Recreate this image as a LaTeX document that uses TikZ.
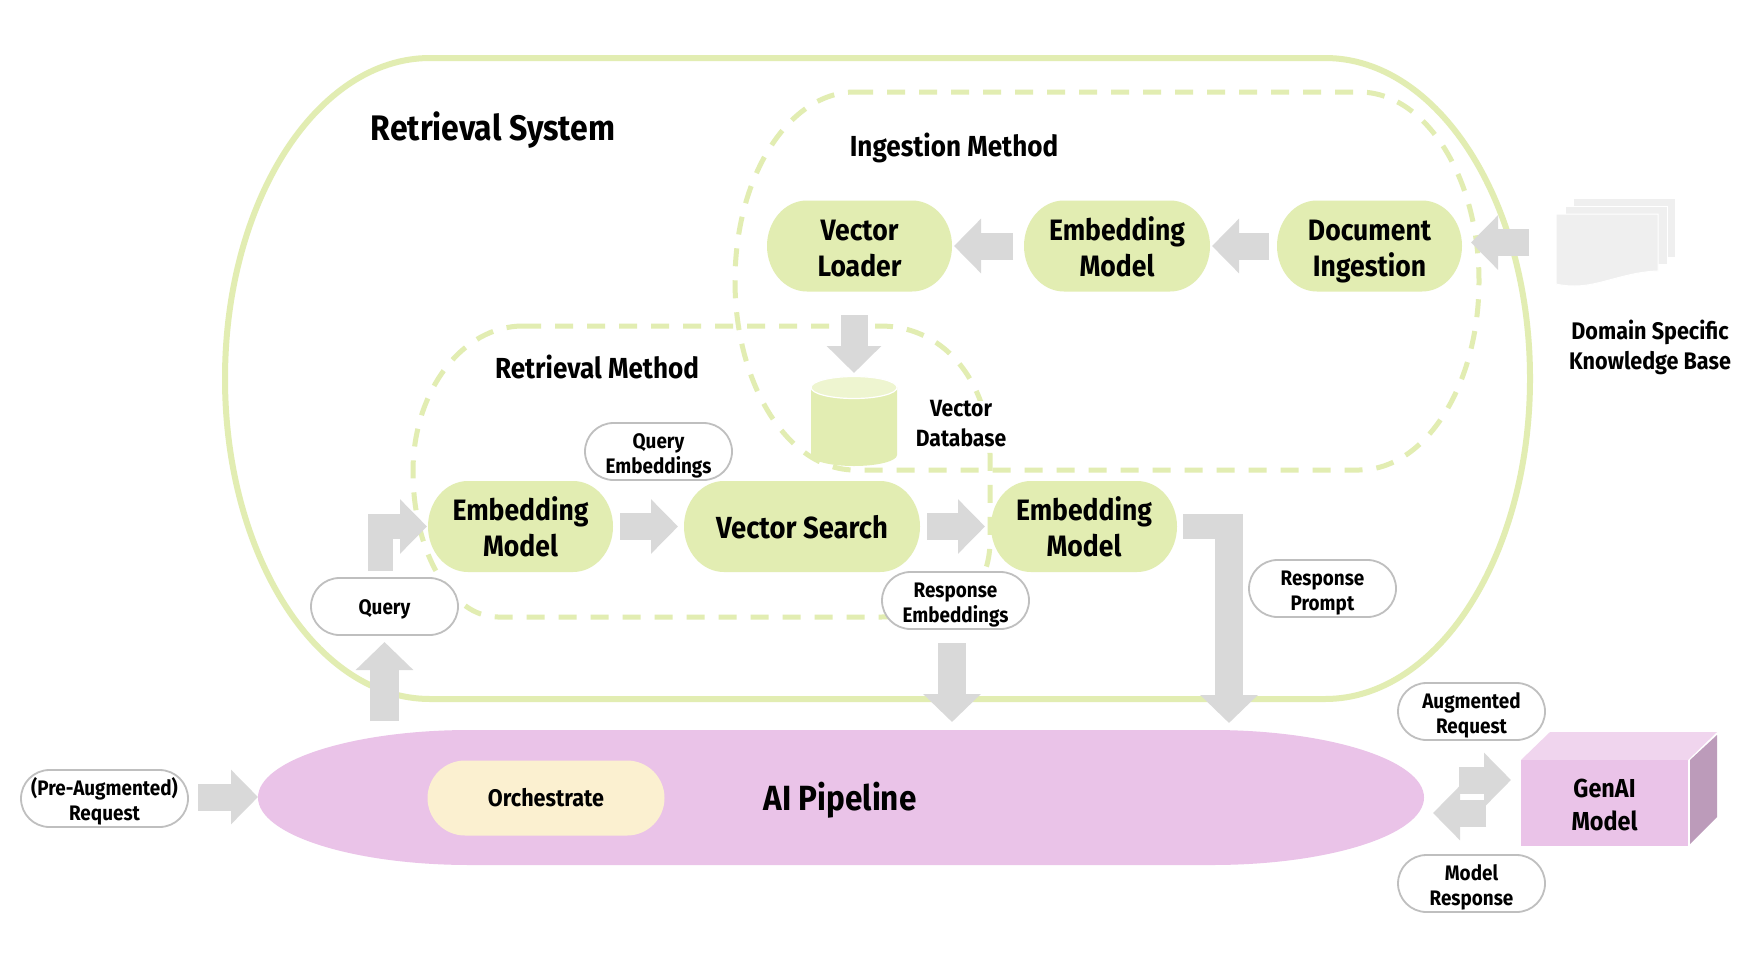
\documentclass[tikz,border=0pt]{standalone}
\usepackage{fontspec}
\setmainfont{Fira Sans}[FakeStretch=0.9]
\usetikzlibrary{arrows.meta,shapes.misc}
\definecolor{lime}{HTML}{E2EDB2}
\definecolor{limelt}{HTML}{EEF5D0}
\definecolor{orchid}{HTML}{EAC3E8}
\definecolor{orchidlt}{HTML}{F0D5EE}
\definecolor{orchiddk}{HTML}{BC9BBA}
\definecolor{cream}{HTML}{FBF0D0}
\definecolor{blockgray}{HTML}{D9D9D9}
\definecolor{pagegray}{HTML}{EFEFEF}
\definecolor{pillgray}{HTML}{BFBFBF}
\tikzset{
  x=1pt,y=-1pt,
  every node/.style={font=\bfseries,inner sep=0pt,outer sep=0pt,align=center},
  bigpill/.style={minimum height=91pt,text height=60pt,text depth=0pt,font=\fontsize{29.5}{36}\bfseries},
  tagpill/.style={fill=white,draw=pillgray,line width=1.8pt,rounded rectangle,minimum width=147pt,minimum height=57pt,text height=43pt,text depth=0pt,font=\fontsize{21}{25}\bfseries},
  boundary/.style={draw=lime,line width=6pt},
  dashbound/.style={draw=lime,line width=5pt,dash pattern=on 18pt off 14pt},
  block/.style={draw=blockgray,line width=27pt,line join=miter,-{Triangle[length=27pt,width=53pt,color=blockgray]}},
  bigblock/.style={draw=blockgray,line width=28.5pt,line join=miter,-{Triangle[length=28pt,width=56pt,color=blockgray]}},
  blockleg/.style={draw=blockgray,line width=25pt},
  pagesheet/.style={fill=pagegray,draw=white,line width=1pt},
  heading/.style={font=\fontsize{#1}{#1}\bfseries},
  caption/.style={font=\fontsize{23.5}{30}\bfseries},
}
% elliptical-ended pill body: colour, centre x, centre y, width, height, end radius
\newcommand\pillbody[6]{%
  \fill[#1] ({#2-#4/2+#6},{#3-#5/2}) -- ({#2+#4/2-#6},{#3-#5/2})
    arc[start angle=-90,end angle=90,x radius=#6,y radius=#5/2]
    -- ({#2-#4/2+#6},{#3+#5/2})
    arc[start angle=90,end angle=270,x radius=#6,y radius=#5/2] -- cycle;}
\begin{document}
\begin{tikzpicture}
\useasboundingbox (0,0) rectangle (1742,964);
\fill[white] (0,0) rectangle (1742,964);
% containers
\draw[boundary] (430,58) -- (1325,58) arc[start angle=-90,end angle=90,x radius=205,y radius=320.5] -- (430,699) arc[start angle=90,end angle=270,x radius=205,y radius=320.5] -- cycle;
\draw[dashbound] (855,92) -- (1359,92) arc[start angle=-90,end angle=90,x radius=120,y radius=189] -- (855,470) arc[start angle=90,end angle=270,x radius=120,y radius=189] -- cycle;
\draw[dashbound] (523,326) -- (880,326) .. controls (950,326) and (990,390) .. (990,455) -- (990,540) .. controls (990,590) and (960,617) .. (880,617) -- (498,617) arc[start angle=90,end angle=180,x radius=85,y radius=145.5] arc[start angle=180,end angle=270,x radius=110,y radius=145.5] -- cycle;
% headings
\node[heading=35.5] (rs) at (493,130) {Retrieval System};
\node[heading=29] (im) at (954,148) {Ingestion Method};
\node[heading=29] (rm) at (597,367) {Retrieval Method};
% database
\fill[lime] (811,387) -- (811,455) arc[start angle=180,end angle=0,x radius=43,y radius=11] -- (897,387) -- cycle;
\draw[fill=limelt,draw=white,line width=1.2pt] (854,387.5) ellipse[x radius=43,y radius=11];
\coordinate (dbtop) at (854,373);
\node[caption,fill=white,inner xsep=3pt] (vdb) at (961,424) {Vector\\Database};
% main nodes
\pillbody{lime}{859.5}{246}{185}{91}{40}
\pillbody{lime}{1117}{246}{186}{91}{40}
\pillbody{lime}{1369.5}{246}{185}{91}{40}
\pillbody{lime}{520.5}{526.5}{185}{91}{40}
\pillbody{lime}{802}{526.5}{236}{91}{40}
\pillbody{lime}{1084}{526.5}{186}{91}{40}
\node[bigpill,minimum width=185pt] (vl) at (859.5,246) {Vector\\Loader};
\node[bigpill,minimum width=186pt] (em1) at (1117,246) {Embedding\\Model};
\node[bigpill,minimum width=185pt] (di) at (1369.5,246) {Document\\Ingestion};
\node[bigpill,minimum width=185pt] (em2) at (520.5,526.5) {Embedding\\Model};
\node[bigpill,minimum width=236pt,text height=24pt,font=\fontsize{30.5}{36}\bfseries] (vs) at (802,526.5) {Vector Search};
\node[bigpill,minimum width=186pt] (em3) at (1084,526.5) {Embedding\\Model};
% pipeline
\pillbody{orchid}{841}{797.5}{1166}{135}{212}
\node[heading=35] (ai) at (840,800) {AI Pipeline};
\node[fill=cream,rounded rectangle,minimum width=237pt,minimum height=75pt,font=\fontsize{24}{28}\bfseries] (orc) at (546,798) {Orchestrate};
% genai box
\fill[orchidlt] (1521,760) -- (1550,732) -- (1717,732) -- (1688,760) -- cycle;
\fill[orchiddk] (1690,760) -- (1717,735) -- (1717,817) -- (1690,844) -- cycle;
\node[fill=orchid,minimum width=167pt,minimum height=86pt,text height=54pt,text depth=0pt,font=\fontsize{26}{33}\bfseries] (gen) at (1604.5,803) {GenAI\\Model};
% documents
\path[pagesheet] (1573,198) rectangle (1675,257);
\path[pagesheet] (1565,206) rectangle (1667,264);
\path[pagesheet] (1556,214) -- (1658,214) -- (1658,271) .. controls (1625,272) and (1600,286) .. (1575,286) .. controls (1566,286) and (1560,285) .. (1556,284) -- cycle;
\coordinate (docs) at (1529,242.5);
\node[font=\fontsize{24}{30}\bfseries] (kb) at (1650,347) {Domain Specific\\Knowledge Base};
% tags
\node[tagpill,minimum width=167pt] (pre) at (104.5,798.5) {(Pre-Augmented)\\Request};
\node[tagpill] (qe) at (658.5,451.5) {Query\\Embeddings};
\node[tagpill,text height=16pt] (q) at (384.5,606.5) {Query};
\node[tagpill] (re) at (955.5,600.5) {Response\\Embeddings};
\node[tagpill] (rp) at (1322.5,588.5) {Response\\Prompt};
\node[tagpill] (ar) at (1471.5,711.5) {Augmented\\Request};
\node[tagpill] (mr) at (1471.5,883.5) {Model\\Response};
% block arrows
\coordinate (qup) at (380,571);
\coordinate (bendtop) at (1229,514);
\coordinate (bendin) at (1243,526.5);
\coordinate (bend) at (1229,723);
\coordinate (repipe) at (952,722);
\coordinate (prepipe) at (258,797);
\coordinate (mout) at (1459,780);
\coordinate (min) at (1486,813);
\coordinate (mend) at (1433,813);
\draw[block] (docs) -- ([xshift=9pt]di.east |- docs);
\draw[block] ([xshift=-8pt]di.west) -- ([xshift=2pt]em1.east);
\draw[block] ([xshift=-11pt]em1.west) -- ([xshift=2pt]vl.east);
\draw[block] ([yshift=58pt]dbtop) -- (dbtop);
\draw[block] ([xshift=7pt]em2.east) -- ([xshift=-6pt]vs.west);
\draw[block] ([xshift=7pt]vs.east) -- ([xshift=-6pt]em3.west);
\draw[block,line width=25pt] (qup) |- ([xshift=-1pt]em2.west);
\draw[bigblock] ([yshift=-86pt]q.south) -- ([yshift=-7pt]q.south);
\draw[bigblock] (re.south -| repipe) ++(0,14) -- (repipe);
\draw[blockleg] ([xshift=6pt]em3.east) -- (bendin);
\draw[bigblock] (bendtop) -- (bend);
\draw[block] ([xshift=10pt]pre.east |- prepipe) -- (prepipe);
\draw[block] (mout) -- ([xshift=-10pt]gen.west |- mout);
\draw[block] (min) -- (mend);
\end{tikzpicture}
\end{document}
